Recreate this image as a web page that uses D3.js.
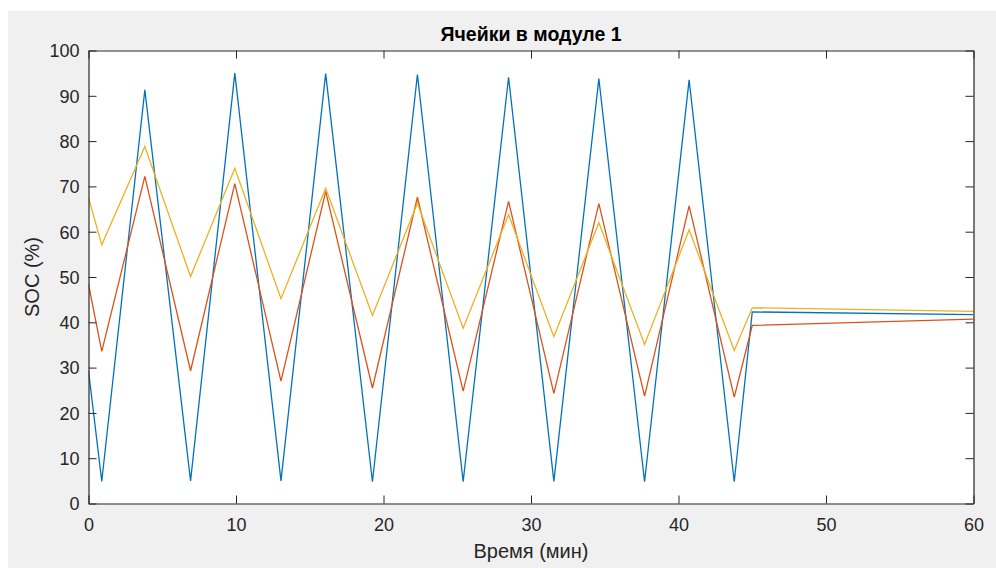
<!DOCTYPE html>
<html><head><meta charset="utf-8">
<script src="https://cdn.jsdelivr.net/npm/d3@7"></script>
<style>body{margin:0;background:#fff;} svg{display:block;}</style>
</head><body>
<svg id="c" width="996" height="568"></svg>
<script>
const timeMin = [0, 0.9, 3.82, 6.92, 9.92, 13.05, 16.08, 19.25, 22.3, 25.4, 28.48, 31.55, 34.6, 37.7, 40.72, 43.78, 45.0, 60];
const cell1 = [29.3, 4.9, 91.3, 5.0, 95.0, 5.0, 94.9, 4.8, 94.7, 4.8, 94.1, 4.9, 93.8, 4.8, 93.5, 4.8, 42.3, 41.7];
const cell2 = [48.4, 33.6, 72.2, 29.3, 70.6, 27.0, 68.9, 25.5, 67.6, 24.8, 66.7, 24.3, 66.2, 23.7, 65.7, 23.5, 39.3, 40.7];
const cell3 = [67.5, 57.1, 78.8, 50.1, 74.0, 45.2, 69.6, 41.5, 66.3, 38.7, 63.8, 36.8, 62.0, 35.1, 60.4, 33.8, 43.2, 42.4];
const xTicks = [0, 10, 20, 30, 40, 50, 60];
const yTicks = [0, 10, 20, 30, 40, 50, 60, 70, 80, 90, 100];
const titleText = "Ячейки в модуле 1";
const xLabel = "Время (мин)";
const yLabel = "SOC (%)";

const series = [
  {values: cell1, color: "#0072BD"},
  {values: cell2, color: "#D95319"},
  {values: cell3, color: "#EDB120"}
];

const svg = d3.select("#c");
const W = 996, H = 568;
const m = {left: 88.5, right: 973.5, top: 50.5, bottom: 503.5};
const axisColor = "#262626";
const font = "Arial, 'Liberation Sans', Helvetica, sans-serif";

svg.append("rect").attr("x", 8).attr("y", 11).attr("width", W - 8).attr("height", H - 11).attr("fill", "#f0f0f0");

const x = d3.scaleLinear().domain([0, 60]).range([m.left, m.right]);
const y = d3.scaleLinear().domain([0, 100]).range([m.bottom, m.top]);

svg.append("rect").attr("x", m.left).attr("y", m.top).attr("width", m.right - m.left).attr("height", m.bottom - m.top).attr("fill", "#fff");

svg.append("clipPath").attr("id", "clp").append("rect")
  .attr("x", m.left).attr("y", m.top).attr("width", m.right - m.left).attr("height", m.bottom - m.top);

const line = d3.line().x((d, i) => x(timeMin[i])).y(d => y(d));
const g = svg.append("g").attr("clip-path", "url(#clp)");
series.forEach(s => {
  g.append("path").attr("d", line(s.values)).attr("fill", "none")
   .attr("stroke", s.color).attr("stroke-width", 1.3).attr("stroke-linejoin", "miter");
});

const tl = 8;
const xAxis = d3.axisBottom(x).tickValues(xTicks).tickSize(-tl).tickSizeOuter(0);
const gx = svg.append("g").attr("transform", `translate(0,${m.bottom})`).call(xAxis);
const gxt = svg.append("g").attr("transform", `translate(0,${m.top})`).call(d3.axisTop(x).tickValues(xTicks).tickSize(-tl).tickFormat("").tickSizeOuter(0));
const yAxis = d3.axisLeft(y).tickValues(yTicks).tickSize(-tl).tickSizeOuter(0);
const gy = svg.append("g").attr("transform", `translate(${m.left},0)`).call(yAxis);
const gyr = svg.append("g").attr("transform", `translate(${m.right},0)`).call(d3.axisRight(y).tickValues(yTicks).tickSize(-tl).tickFormat("").tickSizeOuter(0));

[gx, gxt, gy, gyr].forEach(a => {
  a.select(".domain").attr("stroke", axisColor).attr("stroke-width", 1.2);
  a.selectAll(".tick line").attr("stroke", axisColor).attr("stroke-width", 1);
  a.selectAll(".tick text").attr("fill", axisColor).attr("font-family", font).attr("font-size", 18);
});
gx.selectAll(".tick text").attr("dy", null).attr("y", 27.5);
gy.selectAll(".tick text").attr("x", -9).attr("dy", "0.35em");

svg.append("text").attr("x", (m.left + m.right) / 2).attr("y", 41)
  .attr("text-anchor", "middle").attr("font-family", font).attr("font-weight", "bold")
  .attr("font-size", 19.5).attr("fill", "#000").text(titleText);

svg.append("text").attr("x", (m.left + m.right) / 2).attr("y", 558)
  .attr("text-anchor", "middle").attr("font-family", font)
  .attr("font-size", 20).attr("fill", axisColor).text(xLabel);

svg.append("text").attr("transform", `translate(38.5,${(m.top + m.bottom) / 2}) rotate(-90)`)
  .attr("text-anchor", "middle").attr("font-family", font)
  .attr("font-size", 20).attr("fill", axisColor).text(yLabel);
</script>
</body></html>
